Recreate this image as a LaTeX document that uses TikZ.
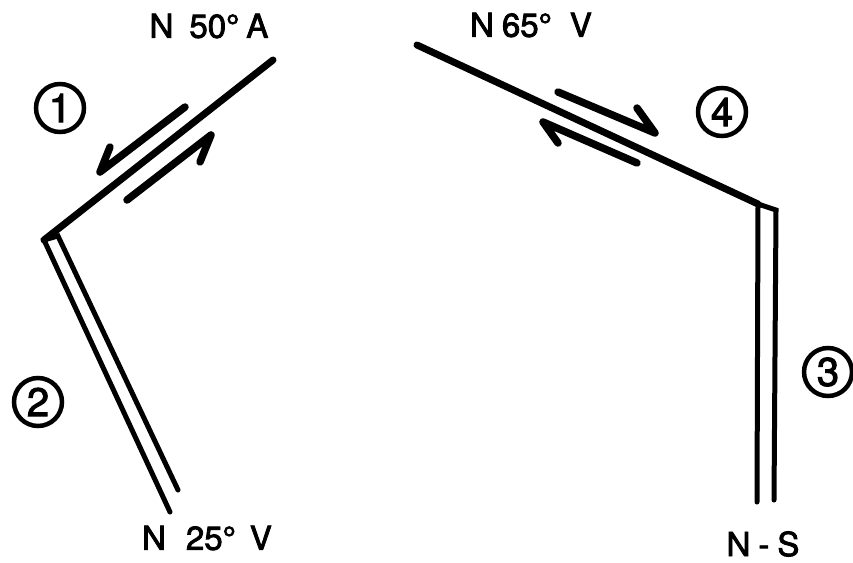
\documentclass[tikz,border=0pt]{standalone}
\usepackage{fontspec}
\setmainfont{TeX Gyre Heros}
\newfontfamily\labfont[FakeBold=2.5]{TeX Gyre Heros}
\begin{document}
\begin{tikzpicture}[x=1pt,y=-1pt,
  fault/.style={line width=7pt,line cap=round,line join=round},
  gouge/.style={line width=5pt,line cap=round,line join=miter},
  slip/.style={line width=7.5pt,line cap=round,line join=round},
  num/.style={circle,draw,line width=4.5pt,minimum size=48pt,inner sep=0pt,font=\labfont\fontsize{40}{40}\selectfont},
  lab/.style={inner sep=0pt,font=\labfont\fontsize{33}{33}\selectfont}]
\useasboundingbox (0,0) rectangle (853,562);
% fault 1 (single) and 2 (double)
\coordinate (f1a) at (273,60);
\coordinate (f1b) at (44,240);
\coordinate (f2l) at (170,512);
\coordinate (f2r) at (178,490);
\coordinate (f2t) at (58,236);
\draw[fault] (f1a) -- (f1b);
\draw[gouge] (f2r) -- (f2t) -- (f1b) -- (f2l);
% fault 4 (single) and 3 (double)
\coordinate (f4a) at (417,45);
\coordinate (f4b) at (758,204);
\coordinate (f3l) at (757,502);
\coordinate (f3t) at (776,210);
\coordinate (f3r) at (774,500);
\draw[fault] (f4a) -- (f4b);
\draw[gouge] (f3l) -- (f4b) -- (f3t) -- (f3r);
% slip half-arrows on fault 1
\coordinate (s1a) at (185,107); \coordinate (s1b) at (100,172); \coordinate (s1c) at (110,147);
\coordinate (s2a) at (127,200); \coordinate (s2b) at (211,135); \coordinate (s2c) at (200,162);
\draw[slip] (s1a) -- (s1b) -- (s1c);
\draw[slip] (s2a) -- (s2b) -- (s2c);
% slip half-arrows on fault 4
\coordinate (s3a) at (558,92); \coordinate (s3b) at (655,133); \coordinate (s3c) at (637,108);
\coordinate (s4a) at (637,163); \coordinate (s4b) at (543,122); \coordinate (s4c) at (558,143);
\draw[slip] (s3a) -- (s3b) -- (s3c);
\draw[slip] (s4a) -- (s4b) -- (s4c);
% numbers
\node[num] (n1) at (60,108) {1};
\node[num] (n2) at (38,402) {2};
\node[num] (n3) at (828,372) {3};
\node[num] (n4) at (722,112) {4};
% labels
\node[lab] (l1) at (209,26) {N\hspace{16pt}50°\hspace{7pt}A};
\node[lab] (l4) at (531,25) {N\hspace{8pt}65°\hspace{18pt}V};
\node[lab] (l2) at (207,538) {N\hspace{20pt}25°\hspace{14pt}V};
\node[lab] (l3) at (763,544) {N\hspace{8pt}-\hspace{8pt}S};
\end{tikzpicture}
\end{document}
